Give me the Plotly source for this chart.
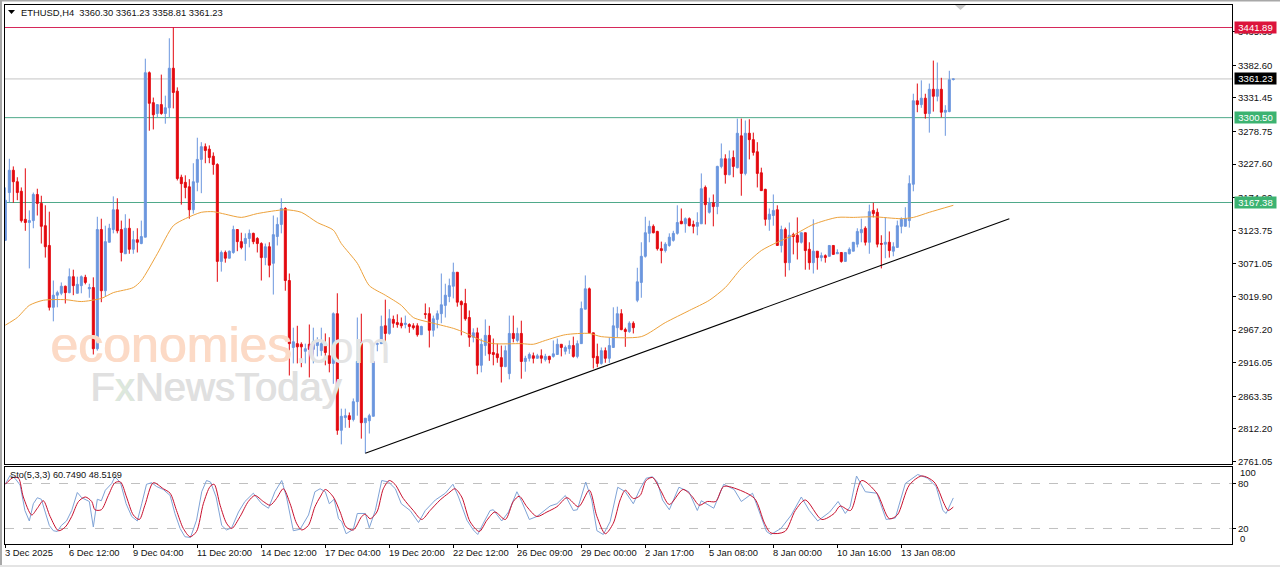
"""ETHUSD H4 chart with stochastic panel, MT4 look"""
import plotly.graph_objects as go

# bar index on x axis
opens = [
    3108, 3183, 3218, 3200, 3185, 3141, 3136, 3139, 3180, 3166,
    3131, 3100, 3003, 3022, 3025, 3036, 3026, 3051, 3025, 3037,
    3050, 3032, 3034, 2938, 3125, 3029, 3105, 3125, 3156, 3125,
    3087, 3127, 3094, 3109, 3103, 3113, 3371, 3324, 3307, 3321,
    3307, 3316, 3378, 3342, 3207, 3199, 3192, 3156, 3199, 3235,
    3255, 3251, 3240, 3227, 3075, 3089, 3080, 3089, 3125, 3106,
    3103, 3111, 3119, 3111, 3103, 3081, 3098, 3072, 3114, 3133,
    3158, 3045, 2940, 2946, 2945, 2934, 2945, 2937, 2943, 2935,
    2943, 2927, 2915, 2993, 2810, 2830, 2833, 2827, 2855, 2948,
    2822, 2825, 2832, 2945, 2946, 2974, 2962, 2984, 2979, 2978,
    2976, 2976, 2974, 2974, 2960, 2993, 2993, 2967, 2984, 2993,
    3006, 3020, 3036, 3058, 3012, 3009, 2987, 2956, 2963, 2912,
    2943, 2959, 2932, 2930, 2924, 2910, 2899, 2962, 2951, 2962,
    2918, 2923, 2927, 2923, 2927, 2921, 2926, 2926, 2929, 2945,
    2934, 2938, 2943, 2926, 2946, 3000, 3032, 2963, 2926, 2915,
    2935, 2923, 2940, 2971, 2993, 2968, 2965, 2978, 3014, 3042,
    3083, 3119, 3130, 3122, 3095, 3092, 3100, 3108, 3119, 3138,
    3134, 3142, 3133, 3130, 3134, 3191, 3152, 3167, 3161, 3224,
    3236, 3211, 3238, 3222, 3272, 3213, 3276, 3266, 3247, 3214,
    3188, 3141, 3147, 3156, 3100, 3125, 3073, 3117, 3116, 3105,
    3120, 3094, 3073, 3091, 3081, 3084, 3083, 3100, 3087, 3089,
    3075, 3087, 3091, 3102, 3120, 3127, 3105, 3155, 3152, 3103,
    3102, 3105, 3091, 3097, 3130, 3130, 3139, 3196, 3327, 3321,
    3331, 3307, 3345, 3334, 3345, 3309, 3310, 3360.30,
]
highs = [
    3191, 3236, 3224, 3207, 3191, 3221, 3155, 3183, 3189, 3178,
    3163, 3153, 3045, 3029, 3042, 3037, 3064, 3062, 3051, 3053,
    3054, 3040, 3050, 3145, 3142, 3131, 3134, 3177, 3174, 3139,
    3149, 3142, 3123, 3127, 3139, 3393, 3373, 3332, 3321, 3368,
    3335, 3425, 3442, 3348, 3211, 3210, 3204, 3229, 3269, 3262,
    3260, 3257, 3246, 3229, 3092, 3092, 3092, 3131, 3125, 3120,
    3119, 3125, 3120, 3113, 3105, 3103, 3105, 3147, 3144, 3174,
    3160, 3056, 2971, 2974, 2948, 2946, 2976, 2971, 2956, 2971,
    2962, 2956, 2995, 3025, 2844, 2844, 2838, 2860, 2987, 2993,
    2829, 2836, 2918, 2948, 2990, 3015, 3000, 2990, 2992, 2987,
    2990, 2978, 2978, 2978, 2974, 3009, 3003, 2990, 2998, 3056,
    3040, 3048, 3073, 3058, 3014, 3032, 2998, 2970, 2971, 2954,
    2984, 2974, 2954, 2946, 2943, 2943, 2990, 2990, 2971, 2982,
    2927, 2932, 2932, 2930, 2937, 2930, 2927, 2951, 2954, 2945,
    2943, 2951, 2957, 2951, 3012, 3053, 3034, 2963, 2946, 2940,
    2940, 2956, 3003, 3004, 3000, 2971, 2981, 2981, 3065, 3105,
    3145, 3139, 3133, 3123, 3106, 3105, 3119, 3123, 3163, 3158,
    3144, 3144, 3139, 3152, 3213, 3194, 3175, 3180, 3225, 3260,
    3243, 3249, 3249, 3299, 3299, 3296, 3298, 3277, 3262, 3222,
    3189, 3158, 3180, 3163, 3131, 3128, 3136, 3120, 3144, 3120,
    3120, 3105, 3141, 3091, 3089, 3086, 3100, 3100, 3094, 3089,
    3089, 3097, 3105, 3127, 3142, 3130, 3164, 3167, 3158, 3116,
    3144, 3122, 3105, 3139, 3144, 3160, 3210, 3338, 3354, 3359,
    3338, 3354, 3390, 3387, 3363, 3320, 3374, 3361.23,
]
lows = [
    3108, 3167, 3167, 3171, 3136, 3123, 3064, 3127, 3147, 3103,
    3081, 2998, 2981, 3003, 3022, 3009, 3025, 3022, 3025, 3025,
    3039, 3018, 2929, 2935, 3011, 3020, 3105, 3119, 3119, 3075,
    3087, 3087, 3087, 3089, 3102, 3113, 3280, 3282, 3301, 3305,
    3291, 3301, 3315, 3202, 3164, 3174, 3142, 3150, 3185, 3182,
    3229, 3229, 3211, 3043, 3059, 3073, 3080, 3087, 3091, 3094,
    3076, 3097, 3102, 3089, 3045, 3069, 3050, 3023, 3100, 3119,
    3029, 2896, 2915, 2915, 2909, 2915, 2893, 2915, 2926, 2927,
    2912, 2901, 2883, 2803, 2788, 2814, 2814, 2824, 2833, 2797,
    2774, 2805, 2832, 2934, 2946, 2934, 2960, 2971, 2971, 2970,
    2970, 2963, 2968, 2957, 2960, 2985, 2940, 2957, 2970, 2978,
    2987, 3011, 3017, 3004, 2959, 2982, 2941, 2948, 2898, 2901,
    2927, 2919, 2912, 2916, 2885, 2909, 2890, 2948, 2948, 2891,
    2902, 2918, 2915, 2923, 2915, 2918, 2915, 2924, 2929, 2926,
    2929, 2930, 2924, 2923, 2946, 3000, 2962, 2907, 2909, 2913,
    2916, 2916, 2940, 2956, 2967, 2941, 2963, 2962, 3011, 3018,
    3081, 3105, 3119, 3092, 3072, 3089, 3098, 3106, 3117, 3134,
    3120, 3130, 3119, 3116, 3134, 3133, 3150, 3130, 3149, 3221,
    3197, 3210, 3207, 3221, 3178, 3210, 3235, 3241, 3191, 3186,
    3131, 3123, 3131, 3100, 3089, 3051, 3061, 3086, 3078, 3103,
    3062, 3062, 3056, 3062, 3075, 3073, 3083, 3086, 3087, 3073,
    3075, 3086, 3091, 3097, 3105, 3100, 3087, 3144, 3097, 3064,
    3080, 3081, 3083, 3097, 3119, 3130, 3128, 3185, 3309, 3316,
    3299, 3277, 3310, 3326, 3301, 3272, 3309, 3358.81,
]
closes = [
    3171, 3218, 3200, 3183, 3139, 3136, 3139, 3180, 3166, 3130,
    3098, 3003, 3022, 3026, 3036, 3026, 3051, 3037, 3039, 3051,
    3042, 3034, 2938, 3125, 3029, 3106, 3127, 3156, 3123, 3089,
    3127, 3094, 3109, 3105, 3114, 3371, 3323, 3305, 3321, 3307,
    3316, 3378, 3340, 3205, 3197, 3191, 3156, 3200, 3235, 3255,
    3249, 3238, 3227, 3075, 3089, 3080, 3091, 3125, 3106, 3097,
    3111, 3119, 3106, 3103, 3081, 3098, 3069, 3117, 3133, 3158,
    3045, 2946, 2949, 2941, 2941, 2938, 2937, 2949, 2949, 2946,
    2932, 2915, 2993, 2810, 2832, 2833, 2827, 2855, 2918, 2822,
    2829, 2833, 2918, 2946, 2973, 2962, 2985, 2978, 2976, 2974,
    2978, 2973, 2971, 2960, 2973, 2992, 2967, 2985, 2993, 3007,
    3022, 3037, 3058, 3011, 3007, 2985, 2956, 2963, 2912, 2945,
    2959, 2930, 2929, 2924, 2910, 2935, 2962, 2954, 2962, 2918,
    2923, 2929, 2923, 2927, 2923, 2926, 2921, 2930, 2945, 2940,
    2940, 2943, 2926, 2946, 3001, 3032, 2963, 2924, 2915, 2935,
    2923, 2943, 2974, 2993, 2968, 2965, 2978, 2971, 3043, 3083,
    3120, 3130, 3120, 3095, 3092, 3102, 3113, 3119, 3136, 3134,
    3142, 3131, 3130, 3136, 3189, 3164, 3167, 3161, 3224, 3236,
    3211, 3236, 3224, 3276, 3213, 3276, 3266, 3246, 3213, 3186,
    3141, 3149, 3155, 3100, 3125, 3073, 3116, 3114, 3105, 3120,
    3092, 3073, 3091, 3081, 3084, 3081, 3100, 3086, 3089, 3075,
    3089, 3094, 3105, 3122, 3125, 3105, 3153, 3150, 3102, 3102,
    3105, 3092, 3098, 3131, 3141, 3142, 3197, 3327, 3321, 3331,
    3307, 3345, 3334, 3345, 3309, 3312, 3360, 3361.23,
]

# moving average
ma_x = [0, 3, 6, 9.5, 15, 19, 24, 27, 32, 34, 38, 42, 45, 49, 52, 55, 59, 63, 70, 74,
        78, 82, 84, 88, 91, 95, 99, 102, 107, 112, 115, 119, 122, 129, 132, 135, 140,
        146, 149, 159, 165, 171, 176, 180, 184, 189, 193, 197, 202, 208, 212, 217,
        224, 227, 231, 237]
ma_y = [2975, 2987, 3006, 3014, 3015, 3012, 3017, 3026, 3034, 3045, 3087, 3131, 3142,
        3152, 3153, 3149, 3144, 3150, 3156, 3152, 3136, 3124, 3103, 3072, 3037, 3022,
        3006, 2987, 2978, 2970, 2963, 2951, 2946, 2946, 2945, 2951, 2960, 2962, 2957,
        2957, 2979, 2998, 3014, 3034, 3064, 3092, 3105, 3116, 3133, 3144, 3144, 3145,
        3142, 3144, 3152, 3163]

# trendline ends
trend_x = [90, 251]
trend_y = [2774, 3142]

# stochastic main line
k_x = [0, 1.2, 2.4, 3.7, 4.9, 6, 7, 8, 9, 9.9, 11, 12, 13, 14, 15.3, 16.6, 18, 19.1, 21, 22,
       23, 24, 25, 26.6, 27.4, 28.8, 30.2, 31.6, 33, 34.1, 35.3, 36.6, 37.8, 39.5, 41.2,
       42.4, 43.7, 44.9, 46.3, 47.8, 49.1, 50.3, 51.3, 52.7, 54.1, 55.3, 56.6, 58.3, 59.9,
       62, 64.1, 65.8, 67.4, 69.1, 70.3, 72, 73.7, 75.8, 77.4, 78.7,
       80, 81, 82.2, 83.3, 84.1, 85.2, 87, 88, 90, 91, 92.5, 94.1, 95.8, 97.5, 99, 101.2,
       103.3, 105, 107.5, 110, 111.9, 113.3, 115.4, 117, 118.1, 119.5, 121.2, 122, 124.1,
       125.8, 127.9, 129.1, 131, 132.9, 136.2, 137.9, 140, 142, 143, 145.1, 146.6, 147.9,
       149.5, 151.2, 153.1, 155, 157, 158.7,
       160.2, 161.8, 163, 164.3, 166, 168.4, 170.9, 173, 174, 177.1, 179.6, 182.2, 184,
       186.8, 188.3, 190.3, 191.4, 193.9, 196.5, 199, 201, 203.1, 206.1, 208.2, 210,
       211.2, 212.8, 215, 217.9, 220.2, 222.5, 225, 228.1, 230.6, 232.7, 234.4, 235.2, 237]
k_y = [79, 91, 87, 78, 44, 30, 53, 61, 59, 44, 24, 17, 16, 24, 30, 44, 68, 61, 56, 22,
       59, 57, 71, 80, 89, 81, 53, 36, 30, 53, 79, 81, 76, 72, 64,
       40, 20, 9, 8, 31, 69, 84, 82, 62, 24, 18, 21, 42, 56,
       67, 53, 47, 69, 84, 62, 17, 19, 38, 69, 73,
       69, 53, 59, 33, 29, 13, 19, 40, 40, 21, 44, 84, 82, 73, 53, 44,
       28, 44, 58, 67, 79, 62, 31, 18, 12, 27, 44, 45, 30,
       42, 69, 56, 32, 36, 50, 53, 64, 44, 45, 82, 58, 17,
       12, 29, 75, 69, 53, 73,
       87, 89, 82, 58, 45, 75, 69, 44, 57, 47, 79, 72, 56,
       67, 44, 16, 12, 20, 38, 62, 44, 30, 42, 56, 40,
       49, 90, 69, 67, 32, 34, 80, 92, 87, 76, 44, 40, 60.75]

# stochastic signal line
d_x = [0, 2, 3.3, 4.5, 6.6, 8, 9.5, 11.2, 13.3, 15, 16.6, 18.3, 20, 21.6, 22.4, 24, 25.75,
       27.4, 28.8, 30.3, 32, 33.5, 34.9, 37, 39.5, 41.2, 42.8, 44.5, 46.2, 47.8, 49.5,
       51.2, 52.2, 53.7, 55.3, 56.6, 58.7, 60.75, 62.4, 64.5, 66.2, 67.8, 69.5, 71.2,
       72.8, 74.1, 75.75, 77.4, 78.7,
       80, 82, 83.7, 85.2, 87, 89.1, 90, 91.2, 92.9, 94.5, 96, 97.4, 99.5, 102, 104.1,
       106.2, 108.7, 110.8, 112.4, 114.1, 116.2, 118.5, 120.4, 122.4, 125, 127, 128.5,
       130.4, 132.9, 135.4, 137.9, 140.4, 143.3, 146, 147.9, 150, 152, 153.7, 155, 157, 158.7,
       160.2, 161.8, 163.8, 166, 169.4, 171.5, 173.5, 175.5, 177.6, 179.6, 182.7, 187.3,
       189.8, 191.4, 194.9, 197.5, 200, 204.1, 207.2, 208.7, 211.3, 214.1, 217.9, 221,
       223, 226, 229.1, 232.2, 234.7, 235.7, 237]
d_y = [79, 88, 87, 62, 38, 47, 57, 36, 17, 22, 36, 56, 62, 56, 45, 45, 64,
       81, 82, 62, 38, 32, 51, 81, 73, 67, 44, 20, 9, 16, 53,
       76, 79, 51, 27, 20, 36, 56, 64, 56, 51, 60, 73, 53,
       27, 18, 24, 49, 62,
       72, 62, 42, 22, 18, 36, 39, 33, 42, 73, 84, 79, 60, 44, 32,
       44, 58, 67, 73, 62, 29, 16, 31, 42, 32, 56, 63,
       49, 36, 42, 49, 61, 49, 71, 36, 13, 27, 58, 71, 60, 64,
       84, 88, 71, 52, 72, 64, 51, 56, 56, 76, 73, 60,
       27, 14, 16, 44, 58, 32, 40, 50, 44, 84, 67, 33,
       38, 78, 90, 82, 53, 44, 48.52]

price_ticks = [3435.30, 3382.60, 3331.45, 3278.75, 3227.60, 3174.90, 3123.75, 3071.05,
               3019.90, 2967.20, 2916.05, 2863.35, 2812.20, 2761.05]
date_ticks = list(range(0, 225, 16))
date_labels = ['3 Dec 2025', '6 Dec 12:00', '9 Dec 04:00', '11 Dec 20:00', '14 Dec 12:00',
               '17 Dec 04:00', '19 Dec 20:00', '22 Dec 12:00', '26 Dec 09:00', '29 Dec 00:00',
               '2 Jan 17:00', '5 Jan 08:00', '8 Jan 00:00', '10 Jan 16:00', '13 Jan 08:00']

hlines = [3441.89, 3361.23, 3300.50, 3167.38]
hline_colors = ['#D6285A', '#C4C4C4', '#4FA98A', '#4FA98A']
hline_boxes = ['#DC143C', '#000000', '#3CB371', '#3CB371']
sto_levels = [80, 20]

W, H = 1280, 567
LEFT, RIGHT, TOP, BOTTOM = 5, 1232, 5, 544
FONT = 'Liberation Sans'
SMALL = 9.4


# decoration helpers, pixel of the window -> paper fraction
def px(x):
    return (x - LEFT) / (RIGHT - LEFT)


def py(y):
    return (BOTTOM - y) / (BOTTOM - TOP)


fig = go.Figure()

for level, col in zip(hlines, hline_colors):
    fig.add_shape(type='line', xref='paper', yref='y', x0=0, x1=1, y0=level, y1=level,
                  line=dict(color=col, width=1), layer='below')
for level in sto_levels:
    fig.add_shape(type='line', xref='paper', yref='y2', x0=0, x1=1, y0=level, y1=level,
                  line=dict(color='#C0C0C0', width=1, dash='dash'), layer='below')

fig.add_trace(go.Candlestick(
    x=list(range(len(opens))), open=opens, high=highs, low=lows, close=closes,
    increasing=dict(line=dict(color='#6B96DE', width=1), fillcolor='#6B96DE'),
    decreasing=dict(line=dict(color='#E3090F', width=1), fillcolor='#E3090F'),
    whiskerwidth=0, showlegend=False,
))
fig.add_trace(go.Scatter(x=ma_x, y=ma_y, mode='lines', showlegend=False,
                         line=dict(color='#EDA23C', width=1, shape='spline', smoothing=0.7)))
fig.add_trace(go.Scatter(x=trend_x, y=trend_y, mode='lines', showlegend=False,
                         line=dict(color='#000000', width=1.1)))
fig.add_trace(go.Scatter(x=k_x, y=k_y, mode='lines', xaxis='x2', yaxis='y2', showlegend=False,
                         line=dict(color='#7FA3D6', width=1)))
fig.add_trace(go.Scatter(x=d_x, y=d_y, mode='lines', xaxis='x2', yaxis='y2', showlegend=False,
                         line=dict(color='#C8102E', width=1, shape='spline', smoothing=0.8)))

notes = []
# price boxes
for level, col in zip(hlines, hline_boxes):
    notes.append(dict(xref='paper', yref='y', x=px(1234), y=level, xanchor='left', yanchor='middle',
                      text=f'{level:.2f}', showarrow=False, bgcolor=col, width=41, height=11,
                      borderpad=0, align='center', font=dict(family=FONT, size=9.5, color='white')))
# date labels start at their tick, MT4 style
for tick, label in zip(date_ticks, date_labels):
    notes.append(dict(xref='x2', yref='paper', x=tick, y=py(552), xanchor='left', yanchor='middle',
                      text=label, showarrow=False, xshift=-2,
                      font=dict(family=FONT, size=SMALL, color='#111111')))
# stochastic scale ends sit inside the panel
notes.append(dict(xref='paper', yref='y2', x=px(1238), y=100, yshift=-4, xanchor='left', text='100',
                  showarrow=False, font=dict(family=FONT, size=9.5, color='#111111')))
notes.append(dict(xref='paper', yref='y2', x=px(1238), y=0, yshift=5, xanchor='left', text='0',
                  showarrow=False, font=dict(family=FONT, size=9.5, color='#111111')))
notes.append(dict(xref='paper', yref='paper', x=px(19), y=py(12), xanchor='left', yanchor='middle',
                  text='ETHUSD,H4&nbsp;&nbsp;3360.30 3361.23 3358.81 3361.23', showarrow=False,
                  font=dict(family=FONT, size=SMALL, color='#111111')))
notes.append(dict(xref='paper', yref='paper', x=px(8), y=py(475), xanchor='left', yanchor='middle',
                  text='Sto(5,3,3) 60.7490 48.5169', showarrow=False,
                  font=dict(family=FONT, size=9.2, color='#111111')))
# watermarks, regular weight thickened a little with a hard shadow
notes.append(dict(xref='paper', yref='paper', x=px(48), y=py(345), xanchor='left', yanchor='middle',
                  text='economies', showarrow=False,
                  font=dict(family=FONT, size=50, color='#FCDAC6', shadow='1px 0 0 #FCDAC6')))
notes.append(dict(xref='paper', yref='paper', x=px(293), y=py(347), xanchor='left', yanchor='middle',
                  text='.com', showarrow=False,
                  font=dict(family=FONT, size=44, color='#E4E4E4')))
notes.append(dict(xref='paper', yref='paper', x=px(88), y=py(387), xanchor='left', yanchor='middle',
                  text='F<span style="color:#DCE8DC">x</span>NewsToday', showarrow=False,
                  font=dict(family=FONT, size=40, color='#E0E0E0', shadow='1px 0 0 #E0E0E0')))

frame = [
    # window edge
    dict(type='rect', xref='paper', yref='paper', x0=px(0), x1=px(2), y0=py(567), y1=py(0),
         fillcolor='#A8A8A8', line_width=0),
    dict(type='rect', xref='paper', yref='paper', x0=px(0), x1=px(1280), y0=py(1.5), y1=py(0),
         fillcolor='#A8A8A8', line_width=0),
    dict(type='rect', xref='paper', yref='paper', x0=px(0), x1=px(1280), y0=py(567), y1=py(565),
         fillcolor='#E4E4E4', line_width=0),
    # menu triangle and chart shift marker
    dict(type='path', xref='paper', yref='paper',
         path=f'M{px(8)},{py(10)} L{px(15)},{py(10)} L{px(11.5)},{py(14)} Z',
         fillcolor='#000000', line_width=0),
    dict(type='path', xref='paper', yref='paper',
         path=f'M{px(955)},{py(5)} L{px(966)},{py(5)} L{px(960.5)},{py(10)} Z',
         fillcolor='#C8C8C8', line_width=0),
]
for s in frame:
    fig.add_shape(**s)

axis_line = dict(showline=True, linecolor='#000000', linewidth=1, mirror=True, showgrid=False,
                 zeroline=False)
x_range = [-0.08, 306.67]

fig.update_layout(
    width=W, height=H, autosize=False,
    margin=dict(l=LEFT, r=W - RIGHT, t=TOP, b=H - BOTTOM, pad=0),
    paper_bgcolor='white', plot_bgcolor='white',
    boxgap=0.5, boxgroupgap=0,
    hovermode=False,
    font=dict(family=FONT, size=9.5, color='#111111'),
    annotations=notes,
    xaxis=dict(domain=[0, 1], range=x_range, anchor='y', rangeslider=dict(visible=False),
               showticklabels=False, ticks='', **axis_line),
    yaxis=dict(domain=[py(464), 1], range=[2757.2, 3477.2], side='right', anchor='x',
               tickmode='array', tickvals=price_ticks, ticktext=[f'{v:.2f}' for v in price_ticks],
               ticks='outside', ticklen=3, tickcolor='#000000', automargin=False, **axis_line),
    xaxis2=dict(domain=[0, 1], range=x_range, anchor='y2', matches='x',
                tickmode='array', tickvals=date_ticks, ticktext=[''] * len(date_ticks),
                ticks='outside', ticklen=3, tickcolor='#000000', automargin=False, **axis_line),
    yaxis2=dict(domain=[0, py(467)], range=[-0.7, 102], side='right', anchor='x2',
                tickmode='array', tickvals=sto_levels, ticktext=[str(v) for v in sto_levels],
                ticks='outside', ticklen=3, tickcolor='#000000', automargin=False, **axis_line),
)

# page default margin would push the chart 8px in
fig.write_html('out.html', config={'displayModeBar': False},
               post_script="document.body.style.margin='0';")
